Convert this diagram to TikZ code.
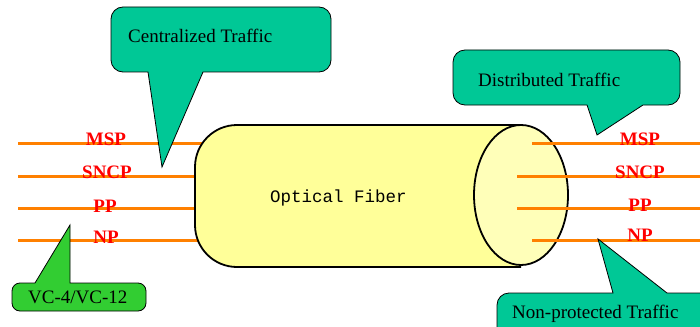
\documentclass[tikz,border=0pt]{standalone}
\usepackage{fontspec}
\setmainfont{Liberation Serif}
\newfontfamily\monofnt{Liberation Mono}
\definecolor{callteal}{RGB}{0,200,150}
\definecolor{callgreen}{RGB}{50,205,50}
\definecolor{fiberbody}{RGB}{255,255,153}
\definecolor{fiberend}{RGB}{255,255,185}
\definecolor{sigorange}{RGB}{255,128,0}
\definecolor{sigred}{RGB}{255,0,0}
\tikzset{
  callout/.style={draw=black, line width=0.8pt, fill=callteal},
  calltext/.style={font=\fontsize{19}{22}\selectfont, text=black, inner sep=0pt},
  sigline/.style={draw=sigorange, line width=3pt},
  siglabel/.style={font=\bfseries\fontsize{19}{22}\selectfont, text=sigred, inner sep=0pt, anchor=base},
  fiber/.style={draw=black, line width=1.8pt}
}
\begin{document}
\begin{tikzpicture}[x=1pt,y=-1pt]
\useasboundingbox (0,0) rectangle (700,326);
\clip (0,0) rectangle (700,326);
\fill[white] (0,0) rectangle (700,326);

% left signal lines
\draw[sigline] (18,143) -- (220,143);
\draw[sigline] (18,176) -- (205,176);
\draw[sigline] (18,208) -- (205,208);
\draw[sigline] (18,240) -- (210,240);

% fiber body
\path[fiber, fill=fiberbody, rounded corners=42] (521,125) -- (195,125) -- (195,267) -- (521,267);
\draw[fiber, fill=fiberend] (521,195) ellipse [x radius=47, y radius=70];
\node[font=\monofnt\fontsize{17.5}{20}\selectfont, inner sep=0pt, anchor=base west] (fibertext) at (270,202) {Optical Fiber};

% right signal lines
\draw[sigline] (532,143) -- (700,143);
\draw[sigline] (517,176) -- (700,176);
\draw[sigline] (517,208) -- (700,208);
\draw[sigline] (532,240) -- (700,240);

% labels
\node[siglabel] (lmsp) at (106,145) {MSP};
\node[siglabel] (lsncp) at (107,178) {SNCP};
\node[siglabel] (lpp) at (105,212) {PP};
\node[siglabel] (lnp) at (106,243) {NP};
\node[siglabel] (rmsp) at (640,145) {MSP};
\node[siglabel] (rsncp) at (640,178) {SNCP};
\node[siglabel] (rpp) at (640,211) {PP};
\node[siglabel] (rnp) at (640,241) {NP};

% callouts
\draw[callout] (162,167) -- (203,72) {[rounded corners=12] -- (331,72) -- (331,7) -- (111,7) -- (111,72)} -- (148,72) -- cycle;
\node[calltext, anchor=base west] (central) at (128,43) {Centralized Traffic};

\draw[callout] (597,135) -- (643,105) {[rounded corners=12] -- (680,105) -- (680,50) -- (453,50) -- (453,105)} -- (587,105) -- cycle;
\node[calltext, anchor=base west] (distrib) at (478,87) {Distributed Traffic};

\draw[callout, fill=callgreen] (70,225) -- (70,283) {[rounded corners=8] -- (146,283) -- (146,311) -- (12,311) -- (12,283)} -- (35,283) -- cycle;
\node[calltext, anchor=base west] (vc) at (28,303) {VC-4/VC-12};

\draw[callout] (598,239) -- (667,293) {[rounded corners=12] -- (712,293) -- (712,345) -- (497,345) -- (497,293)} -- (613,293) -- cycle;
\node[calltext, anchor=base west] (nonprot) at (512,318) {Non-protected Traffic};
\end{tikzpicture}
\end{document}
